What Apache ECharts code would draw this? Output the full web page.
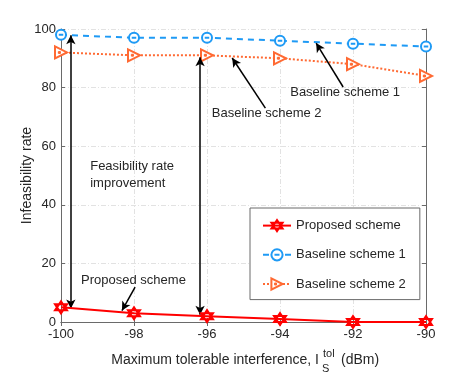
<!DOCTYPE html>
<html>
<head>
<meta charset="utf-8">
<script src="https://cdn.jsdelivr.net/npm/echarts@6/dist/echarts.min.js"></script>
<style>
html, body { margin: 0; padding: 0; background: #fff; }
#chartBox { width: 471px; height: 375px; }
</style>
</head>
<body>
<div id="chartBox"></div>
<script>
// x 轴: 最大可容忍干扰 (dBm)
var xValues = [-100, -98, -96, -94, -92, -90]
var proposed = [5, 3, 2, 1, 0, 0]
var baseline1 = [98, 97, 97, 96, 95, 94]
var baseline2 = [92, 91, 91, 90, 88, 84]
var yTicks = [0, 20, 40, 60, 80, 100]
var names = ['Proposed scheme', 'Baseline scheme 1', 'Baseline scheme 2']

var font = 'Liberation Sans, Arial, sans-serif'
var textColor = '#262626'

// 标记形状
var hexagram = 'path://M0,-1L0.866,0.5L-0.866,0.5Z M0,1L0.866,-0.5L-0.866,-0.5Z'
var circleMinus = 'path://M-1,0A1,1 0 1,0 1,0A1,1 0 1,0 -1,0Z M-0.45,0L0.45,0'
var triPlus = 'path://M-0.9,-1L1,0L-0.9,1Z M-0.45,0L0.05,0 M-0.2,-0.25L-0.2,0.25'

function pairs (ys) {
  return xValues.map(function (x, i) { return [x, ys[i]] })
}

// 注释文字 [x, y, 文本]
var notes = [
  [-93.72, 78.3, 'Baseline scheme 1'],
  [-95.87, 71.2, 'Baseline scheme 2'],
  [-99.2, 50.2, 'Feasibility rate\nimprovement'],
  [-99.45, 14.1, 'Proposed scheme']
]
// 单向箭头 [起点, 终点(箭头)]
var arrows = [
  [[-92.27, 80.2], [-93.01, 95.2]],
  [[-94.40, 73.0], [-95.31, 90.1]],
  [[-97.97, 11.9], [-98.33, 3.9]]
]
// 双向箭头
var doubleArrows = [
  [[-99.73, 97.9], [-99.73, 4.6]],
  [[-96.19, 90.4], [-96.19, 2.5]]
]

var markLines = arrows.map(function (a) {
  return [{ coord: a[0], symbol: 'none' }, { coord: a[1], symbol: 'arrow' }]
}).concat(doubleArrows.map(function (a) {
  return [{ coord: a[0], symbol: 'arrow' }, { coord: a[1], symbol: 'arrow' }]
}))

var markPoints = notes.map(function (n) {
  return {
    coord: [n[0], n[1]],
    value: n[2],
    symbol: 'circle',
    symbolSize: 0,
    label: {
      show: true,
      position: 'right',
      distance: 0,
      formatter: n[2],
      color: textColor,
      fontSize: 13,
      lineHeight: 17,
      fontFamily: font
    }
  }
})

var myChart = echarts.init(document.getElementById('chartBox'))

var gridLine = { show: true, lineStyle: { color: '#e2e2e2', type: [5, 2, 1, 2], width: 1 } }
var axisLine = { show: true, lineStyle: { color: '#6a6a6a', width: 1 } }
var tick = { show: true, inside: true, length: 4, lineStyle: { color: '#6a6a6a' } }
var titleStyle = { fill: textColor, fontFamily: font, verticalAlign: 'middle' }

myChart.setOption({
  animation: false,
  backgroundColor: '#fff',
  textStyle: { fontFamily: font },
  grid: { left: 61, right: 45, top: 29, bottom: 53 },
  legend: {
    orient: 'vertical',
    left: 250,
    top: 208,
    padding: [11, 14, 9, 12],
    itemWidth: 28,
    itemHeight: 14,
    itemGap: 16,
    backgroundColor: '#fff',
    borderColor: '#6a6a6a',
    borderWidth: 1,
    borderRadius: 0,
    textStyle: { fontSize: 13, color: textColor, fontFamily: font },
    data: names
  },
  xAxis: [{
    type: 'value',
    min: -100,
    max: -90,
    interval: 2,
    axisLine: axisLine,
    axisTick: tick,
    axisLabel: { color: textColor, fontSize: 13, margin: 6 },
    splitLine: gridLine
  }, {
    type: 'value',
    position: 'top',
    min: -100,
    max: -90,
    interval: 2,
    axisLine: axisLine,
    axisTick: tick,
    axisLabel: { show: false },
    splitLine: { show: false }
  }],
  yAxis: [{
    type: 'value',
    min: 0,
    max: 100,
    interval: 20,
    name: 'Infeasibility rate',
    nameLocation: 'middle',
    nameGap: 27,
    nameMoveOverlap: false,
    nameTextStyle: { fontSize: 14, color: textColor },
    axisLine: axisLine,
    axisTick: tick,
    axisLabel: { color: textColor, fontSize: 13, margin: 5, formatter: function (v) { return yTicks.indexOf(v) >= 0 ? v : '' } },
    splitLine: gridLine
  }, {
    type: 'value',
    position: 'right',
    min: 0,
    max: 100,
    interval: 20,
    axisLine: axisLine,
    axisTick: tick,
    axisLabel: { show: false },
    splitLine: { show: false }
  }],
  graphic: [
    { type: 'text', x: 319, y: 360, silent: true, style: Object.assign({ text: 'Maximum tolerable interference, I', fontSize: 14, align: 'right' }, titleStyle) },
    { type: 'text', x: 323, y: 354, silent: true, style: Object.assign({ text: 'tol', fontSize: 11, align: 'left' }, titleStyle) },
    { type: 'text', x: 322, y: 369, silent: true, style: Object.assign({ text: 'S', fontSize: 11, align: 'left' }, titleStyle) },
    { type: 'text', x: 341, y: 360, silent: true, style: Object.assign({ text: '(dBm)', fontSize: 14, align: 'left' }, titleStyle) }
  ],
  series: [{
    name: names[0],
    type: 'line',
    data: pairs(proposed),
    symbol: hexagram,
    symbolSize: 12,
    itemStyle: { color: '#fff', borderColor: '#ff0000', borderWidth: 2 },
    lineStyle: { color: '#ff0000', width: 2 },
    z: 5,
    markLine: {
      silent: true,
      symbolSize: [7, 9],
      label: { show: false },
      lineStyle: { color: '#000', type: 'solid', width: 1.5 },
      data: markLines
    },
    markPoint: {
      silent: true,
      data: markPoints
    }
  }, {
    name: names[1],
    type: 'line',
    data: pairs(baseline1),
    symbol: circleMinus,
    symbolSize: 10,
    itemStyle: { color: '#fff', borderColor: '#1e9af5', borderWidth: 2 },
    lineStyle: { color: '#1e9af5', width: 2, type: [6, 5] }
  }, {
    name: names[2],
    type: 'line',
    data: pairs(baseline2),
    symbol: triPlus,
    symbolSize: 12,
    itemStyle: { color: '#fff', borderColor: '#ff6a33', borderWidth: 2 },
    lineStyle: { color: '#ff6a33', width: 2, type: [2, 2] }
  }]
})
</script>
</body>
</html>
